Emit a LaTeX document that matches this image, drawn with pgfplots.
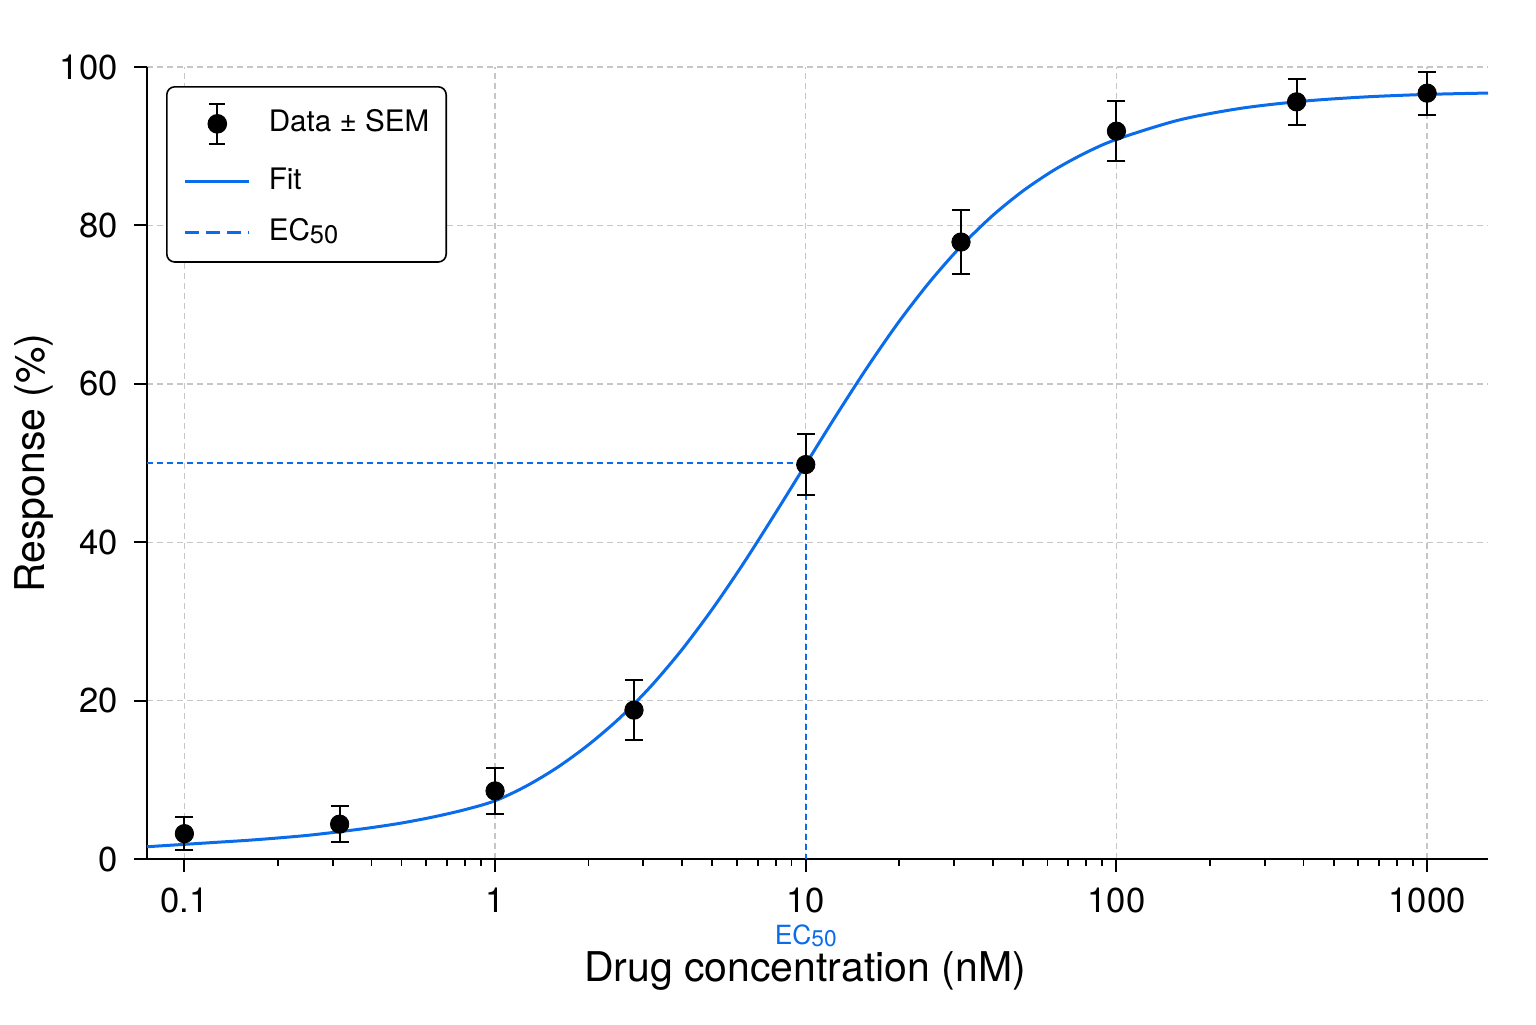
\documentclass[border=0pt]{standalone}
\usepackage{fontspec}
\setmainfont{TeX Gyre Heros}
\usepackage{graphicx}
\usepackage{pgfplots}
\usepackage{pgfplotstable}
\pgfplotsset{compat=1.18}

\definecolor{fitblue}{HTML}{0A6CEB}
\newcommand{\ecfifty}{EC\raisebox{-0.2ex}{\scalebox{0.86}{50}}}

% measured responses (mean and SEM)
\pgfplotstableread{
x      y     e
0.1    3.2   2.1
0.316  4.4   2.3
1      8.6   2.9
2.8    18.8  3.8
10     49.8  3.9
31.6   77.9  4.0
100    91.9  3.8
380    95.6  2.9
1000   96.7  2.7
}\measured

% fitted dose-response curve, tabulated
\pgfplotstableread{
x       y
0.0758  1.55
0.1     1.85
0.1259  2.10
0.1585  2.35
0.1995  2.65
0.2512  3.00
0.3162  3.45
0.3981  3.95
0.5012  4.55
0.6310  5.30
0.7943  6.20
1       7.35
1.259   9.20
1.585   11.55
1.995   14.40
2.512   17.76
3.162   21.74
3.981   26.36
5.012   31.60
6.310   37.36
7.943   43.52
10      49.84
12.59   56.14
15.85   62.20
19.95   67.84
25.12   72.92
31.62   77.38
39.81   81.19
50.12   84.38
63.10   87.01
79.43   89.15
100     90.86
158.5   93.29
251.2   94.78
398.1   95.68
631.0   96.22
1000    96.54
1570    96.71
}\fitcurve

\pgfplotsset{
  ecimage/.style={legend image code/.code={
    \draw[fitblue, line width=1.2pt, dash pattern=on 7pt off 3.5pt] (0pt,0pt) -- (32pt,0pt);}},
  fitimage/.style={legend image code/.code={
    \draw[fitblue, line width=1.5pt] (0pt,0pt) -- (32pt,0pt);}},
  dataimage/.style={legend image code/.code={
    \draw[black, line width=1pt] (16pt,-10pt) -- (16pt,10pt);
    \draw[black, line width=1pt] (12pt,-10pt) -- (20pt,-10pt);
    \draw[black, line width=1pt] (12pt,10pt) -- (20pt,10pt);
    \fill[black] (16pt,0pt) circle (4.5pt);}},
}

\begin{document}
\begin{tikzpicture}
\useasboundingbox (0,0) rectangle (768pt,512pt);
\begin{axis}[
  at={(73.5pt,82.5pt)}, anchor=south west,
  scale only axis, width=670.5pt, height=396pt,
  xmode=log, log basis x=10,
  xmin=0.0758, xmax=1570, ymin=0, ymax=100,
  clip mode=individual,
  axis x line*=bottom, axis y line*=left,
  axis line style={-, line width=1.2pt, black},
  xtick={0.1,1,10,100,1000},
  xticklabels={0.1,1,10,100,1000},
  minor xtick={0.2,0.3,0.4,0.5,0.6,0.7,0.8,0.9,2,3,4,5,6,7,8,9,20,30,40,50,60,70,80,90,200,300,400,500,600,700,800,900},
  ytick={0,20,40,60,80,100},
  tick align=outside,
  major tick length=6.5pt, minor tick length=3.5pt,
  major tick style={black, line width=1pt},
  minor tick style={black, line width=0.9pt},
  grid=major,
  grid style={gray!45, line width=0.7pt, dash pattern=on 3pt off 2pt},
  /pgf/number format/assume math mode=true,
  tick label style={font=\fontsize{17.3}{20}\selectfont, inner sep=0pt},
  xticklabel style={anchor=north, yshift=-8pt},
  yticklabel style={anchor=east, xshift=-8pt},
  label style={font=\fontsize{20.5}{24}\selectfont, inner sep=0pt},
  xlabel={Drug concentration (nM)},
  ylabel={Response (\%)},
  xlabel style={at={(axis description cs:0.4907,-0.1162)}, anchor=north},
  ylabel style={at={(axis description cs:-0.0992,0.5)}, anchor=north, rotate=0},
  reverse legend,
  legend cell align=left,
  legend style={
    at={(axis description cs:0.01417,0.976)}, anchor=north west,
    draw=black, line width=0.8pt, rounded corners=4pt,
    inner xsep=8.5pt, inner ysep=8pt,
    font=\fontsize{14.8}{17}\selectfont,
    row sep=11.8pt,
    nodes={inner sep=0pt, text height=10.5pt, text depth=3pt},
    /tikz/every odd column/.append style={column sep=9pt},
  },
]
% EC50 guide lines
\addplot[fitblue, line width=1.1pt, dash pattern=on 3pt off 2pt, ecimage]
  coordinates {(0.0758,50) (10,50) (10,0)};
\addlegendentry{\ecfifty}

% fitted curve
\addplot[fitblue, line width=1.5pt, smooth, fitimage]
  table[x=x, y=y] {\fitcurve};
\addlegendentry{Fit}

% data with error bars
\addplot[black, only marks, mark=*, mark size=4.6pt, dataimage,
  error bars/.cd, y dir=both, y explicit,
  error bar style={line width=1pt, black},
  error mark options={rotate=90, mark size=4.5pt, line width=1pt, black}]
  table[x=x, y=y, y error=e] {\measured};
\addlegendentry{Data ± SEM}

\node[anchor=north, inner sep=0pt, text=fitblue, font=\fontsize{13.2}{15}\selectfont,
  yshift=-32.5pt] at (axis cs:10,0) {\ecfifty};
\end{axis}
\end{tikzpicture}
\end{document}
